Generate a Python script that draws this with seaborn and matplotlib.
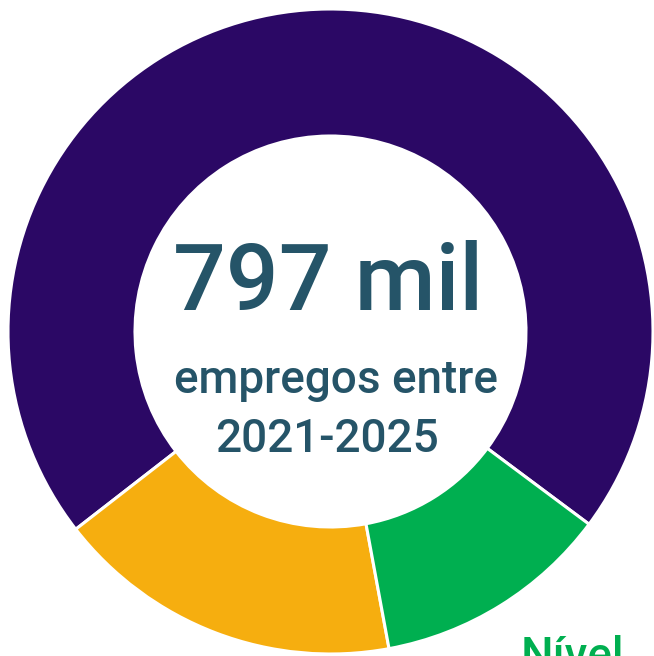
import matplotlib
matplotlib.use("Agg")
import matplotlib.pyplot as plt
import seaborn as sns

categories = ["Grupo A", "Grupo B", "Grupo C"]
shares = [70.7, 17.4, 11.9]
colors = ["#2b0865", "#f6ae0f", "#00af50"]

total_label = "797 mil"
sub_line1 = "empregos entre"
sub_line2 = "2021-2025"
legend_label = "Nível"

sns.set_theme(style="white")
plt.rcParams["font.family"] = ["Roboto", "DejaVu Sans"]

text_color = "#255468"

fig = plt.figure(figsize=(6.54, 6.56), dpi=100)
ax = fig.add_axes([0, 0, 1, 1])
ax.set_xlim(0, 654)
ax.set_ylim(0, 656)
ax.set_aspect("equal")
ax.axis("off")

ax.pie(shares, colors=colors, startangle=-36.7, counterclock=True,
       center=(330.5, 324.5), radius=322.5, frame=True,
       wedgeprops=dict(width=127, edgecolor="white", linewidth=2.2))
ax.set_xlim(0, 654)
ax.set_ylim(0, 656)
ax.axis("off")

ax.text(328, 346, total_label, ha="center", va="baseline",
        fontsize=67, fontweight="medium", color=text_color)
ax.text(336, 263, sub_line1, ha="center", va="baseline",
        fontsize=33, fontweight="medium", color=text_color)
ax.text(327, 204, sub_line2, ha="center", va="baseline",
        fontsize=33, fontweight="medium", color=text_color)
ax.text(521, -14, legend_label, ha="left", va="baseline",
        fontsize=33, fontweight="medium", color="#00af50")

fig.savefig("out.png", dpi=100)
plt.close(fig)
